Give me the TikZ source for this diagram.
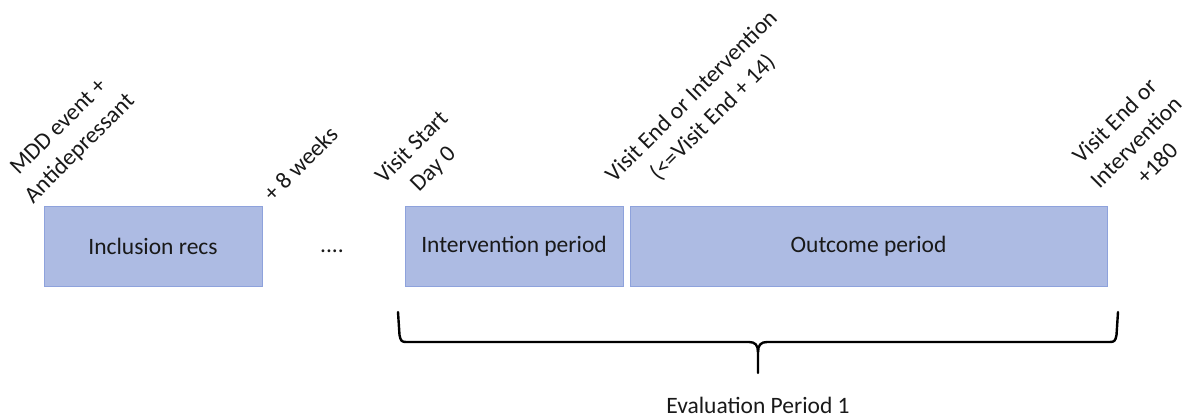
\documentclass[tikz,border=0pt]{standalone}
\usepackage{fontspec}
\setmainfont{Carlito}
\definecolor{boxfill}{RGB}{173,187,227}
\definecolor{boxline}{RGB}{142,162,220}
\definecolor{txt}{RGB}{25,25,25}
\begin{document}
\begin{tikzpicture}[x=1pt,y=1pt,
  every node/.style={text=txt, font=\fontsize{23.5}{30}\selectfont},
  period/.style={draw=boxline, fill=boxfill, line width=0.8pt, inner sep=0pt, minimum height=80pt},
  tick/.style={rotate=45, anchor=south west, inner sep=0pt, align=center},
  brace/.style={draw=black, line width=2.4pt, line cap=round, line join=round}]
\useasboundingbox (0,0) rectangle (1188,418);
% period boxes
\node[period, minimum width=218pt] (inc) at (153,172) {Inclusion recs};
\node[period, minimum width=218pt] (intv) at (514,172) {Intervention period};
\node[period, minimum width=477pt] (outc) at (868.5,172) {Outcome period};
\node[inner sep=0pt, anchor=base] (dots) at (332,165) {....};
% rotated time labels
\node[tick] (mdd) at (36,211) {MDD event +\\Antidepressant};
\node[tick] (weeks) at (273,215) {+ 8 weeks};
\node[tick] (vstart) at (408,209) {Visit Start\\Day 0};
\node[tick] (vend) at (638,211) {Visit End or Intervention\\(<=Visit End + 14)};
\node[tick] (v180) at (1121,207) {Visit End or\\Intervention\\+180};
% brace
\coordinate (bl) at (398,106);
\coordinate (br) at (1118,106);
\coordinate (tip) at (758,45);
\draw[brace] (bl) -- (399.5,83) .. controls (400.5,77) and (402,76) .. (406,76)
  -- (749,76) .. controls (755,76) and (758,73) .. (758,66) -- (tip);
\draw[brace] (758,66) .. controls (758,73) and (761,76) .. (767,76)
  -- (1110,76) .. controls (1114,76) and (1115.5,77) .. (1116.5,83) -- (br);
\node[inner sep=0pt, anchor=base] (eval) at (tip |- 0,5) {Evaluation Period 1};
\end{tikzpicture}
\end{document}
